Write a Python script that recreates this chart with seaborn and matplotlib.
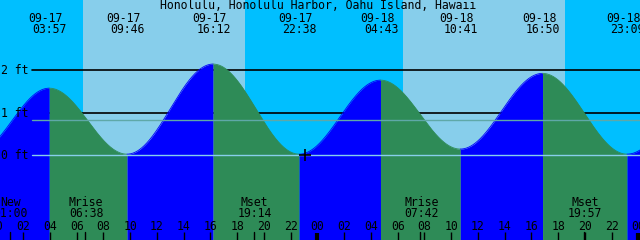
import numpy as np
import pandas as pd
import matplotlib
matplotlib.use("Agg")
import matplotlib.pyplot as plt
import seaborn as sns

# ---------------- data ----------------
title = "Honolulu, Honolulu Harbor, Oahu Island, Hawaii"

# tide extremes (first and last are off-chart, estimated, only to shape the edges)
tide_days = [-1, 0, 0, 0, 0, 1, 1, 1, 1, 2]
tide_dates = ["09-16", "09-17", "09-17", "09-17", "09-17", "09-18", "09-18", "09-18", "09-18", "09-19"]
tide_times = ["22:24", "03:57", "09:46", "16:12", "22:38", "04:43", "10:41", "16:50", "23:09", "05:30"]
tide_heights = [0.05, 1.58, 0.02, 2.15, 0.02, 1.77, 0.14, 1.93, 0.02, 1.75]
tide_labelled = [False, True, True, True, True, True, True, True, True, False]

# sun (day shading)
sunrise_times = ["06:28", "06:24"]
sunset_times = ["18:35", "18:30"]

# moon events along the bottom
moon_days = [0, 0, 0, 1, 1]
moon_names = ["New", "Mrise", "Mset", "Mrise", "Mset"]
moon_times = ["01:00", "06:38", "19:14", "07:42", "19:57"]

depth_values = [0, 1, 2]
depth_labels = ["0 ft", "1 ft", "2 ft"]
mean_level = 0.82
now_hour = 23.07

hour_ticks = list(range(0, 49, 2))
hour_labels = ["%02d" % (h % 24) for h in hour_ticks]

# ---------------- helpers ----------------
def to_hours(day, hhmm):
    h, m = hhmm.split(":")
    return day * 24 + int(h) + int(m) / 60.0

W, H = 640, 240
X0_PX, PX_PER_H = -3.6, 13.375
Y0_PX, PX_PER_FT = 155.0, 42.3
xlim = ((0 - X0_PX) / PX_PER_H, (W - X0_PX) / PX_PER_H)
ylim = ((Y0_PX - H) / PX_PER_FT, Y0_PX / PX_PER_FT)

def yfrac(ypx):
    return 1 - ypx / H

def xdata(xpx):
    return (xpx - X0_PX) / PX_PER_H

NIGHT = "#00BFFF"
DAY = "#87CEEB"
RISE = "#0000FF"
FALL = "#2E8B57"
FONT = dict(family="DejaVu Sans Mono", fontsize=8.3, color="black")

sns.set_theme(style="white")
fig = plt.figure(figsize=(W / 100, H / 100), dpi=100)
ax = fig.add_axes([0, 0, 1, 1])
ax.set_xlim(*xlim)
ax.set_ylim(*ylim)
ax.axis("off")
ax.set_facecolor(NIGHT)
ax.axvspan(*xlim, color=NIGHT, zorder=0, lw=0)
for r, s, d in zip(sunrise_times, sunset_times, [0, 1]):
    ax.axvspan(to_hours(d, r), to_hours(d, s), color=DAY, zorder=0.5, lw=0)

# depth lines (behind the water)
for v in depth_values[1:]:
    ax.plot([xdata(32), xlim[1]], [v, v], color="black", lw=1.2, zorder=1)

# tide curve: half-cosine shape between extremes
ext_t = [to_hours(d, t) for d, t in zip(tide_days, tide_times)]
rows = []
for i in range(len(ext_t) - 1):
    t0, t1 = ext_t[i], ext_t[i + 1]
    h0, h1 = tide_heights[i], tide_heights[i + 1]
    tt = np.linspace(t0, t1, 200)
    hh = h0 + (h1 - h0) * (1 - np.cos(np.pi * (tt - t0) / (t1 - t0))) / 2
    for a, b in zip(tt, hh):
        rows.append((i, "rise" if h1 > h0 else "fall", a, b))
df = pd.DataFrame(rows, columns=["seg", "dir", "hour", "ft"])

for seg, g in df.groupby("seg"):
    col = RISE if g["dir"].iloc[0] == "rise" else FALL
    ax.fill_between(g["hour"], ylim[0], g["ft"], color=col, lw=0, zorder=2)
    sns.lineplot(data=g, x="hour", y="ft", color=col, lw=0.6, ax=ax,
                 zorder=2.1, estimator=None, sort=False, legend=False)
ax.axis("off")
ax.set_xlim(*xlim)
ax.set_ylim(*ylim)

# light lines on top
ax.plot([xdata(32), xlim[1]], [0, 0], color="#87CEEB", lw=1.0, zorder=3)
ax.plot([xdata(32), xlim[1]], [mean_level, mean_level], color="#5FA8A8", lw=1.0, zorder=3)

# now marker
ax.plot([now_hour], [0], marker="+", color="black", ms=8, mew=1.2, zorder=4)

# depth labels
for v, lab in zip(depth_values, depth_labels):
    ax.text(xdata(1), v - 4 / PX_PER_FT, lab, ha="left", va="baseline", zorder=5, **FONT)

xt = ax.get_xaxis_transform()
# title
ax.text(xdata(318), yfrac(9), title, ha="center", va="baseline", transform=xt, zorder=5, **FONT)

# tide extreme labels
for t, dt, tm, show in zip(ext_t, tide_dates, tide_times, tide_labelled):
    if not show:
        continue
    ax.text(t - 3.5 / PX_PER_H, yfrac(22), dt, ha="center", va="baseline", transform=xt, zorder=5, **FONT)
    ax.text(t + 0.5 / PX_PER_H, yfrac(33), tm, ha="center", va="baseline", transform=xt, zorder=5, **FONT)

# moon events
for d, name, tm in zip(moon_days, moon_names, moon_times):
    t = to_hours(d, tm)
    ax.text(t + 1 / PX_PER_H, yfrac(206), name, ha="center", va="baseline", transform=xt, zorder=5, **FONT)
    ax.text(t + 1 / PX_PER_H, yfrac(217), tm if len(tm) == 5 else tm, ha="center", va="baseline",
            transform=xt, zorder=5, **FONT)
    ax.plot([t, t], [0, yfrac(232)], color="black", lw=1, transform=xt, zorder=5)

# hour ticks
for h, lab in zip(hour_ticks, hour_labels):
    ax.text(h, yfrac(230), lab, ha="center", va="baseline", transform=xt, zorder=5, **FONT)
    thick = (h % 24 == 0)
    ax.plot([h, h], [0, yfrac(233 if thick else 232)], color="black",
            lw=3 if thick else 1, transform=xt, zorder=5, solid_capstyle="butt")

fig.savefig("out.png", dpi=100)
